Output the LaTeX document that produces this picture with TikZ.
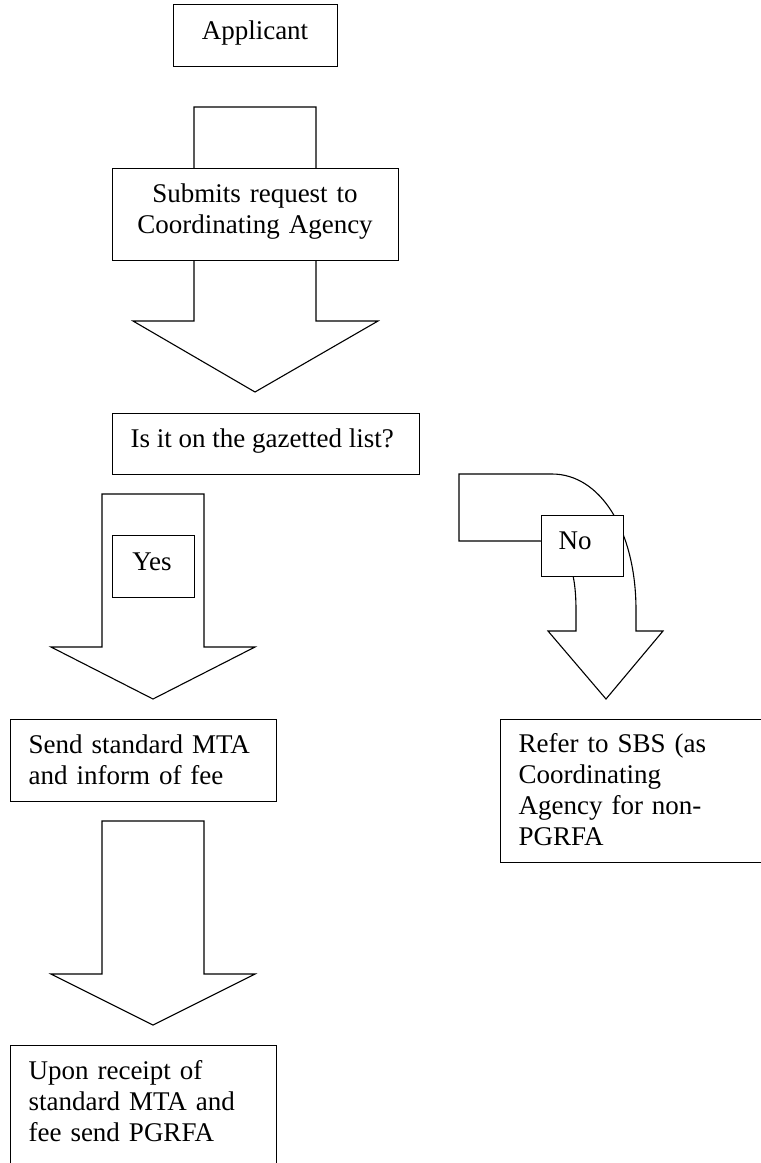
\documentclass[tikz,border=0pt]{standalone}
\usepackage{fontspec}
\setmainfont{Liberation Serif}
\begin{document}
\begin{tikzpicture}[x=1pt,y=-1pt, line width=1.1pt, line join=miter,
  boxst/.style={draw, fill=white, rectangle, inner sep=0pt, anchor=north west},
  txt/.style={inner sep=0pt, font=\fontsize{27}{31}\selectfont, align=left},
  barrow/.style={draw, fill=white}]
\fill[white] (0,0) rectangle (761,1163);
\useasboundingbox (0,0) rectangle (761,1163);
\clip (0,0) rectangle (761,1163);

% Applicant
\node[boxst, minimum width=164pt, minimum height=62pt] (applicant) at (173,4) {};
\node[txt, anchor=base] (applicantT) at (255,39) {Applicant};

% block arrow 1
\draw[barrow] (194,107) -- (316,107) -- (316,321) -- (378,321) -- (255,392)
  -- (133,321) -- (194,321) -- cycle;

% Submits
\node[boxst, minimum width=286pt, minimum height=92pt] (submits) at (112,168) {};
\node[txt, anchor=base, text width=280pt, align=center] (submitsT) at (255,202)
  {Submits request to\\Coordinating Agency};

% Gazetted
\node[boxst, minimum width=307pt, minimum height=61pt] (gazette) at (112,413) {};
\node[txt, anchor=base west] (gazetteT) at (130,447) {Is it on the gazetted list?};

% Yes arrow
\draw[barrow] (102,494) -- (204,494) -- (204,647) -- (255,647) -- (153,699)
  -- (51,647) -- (102,647) -- cycle;
\node[boxst, minimum width=82pt, minimum height=62pt] (yes) at (112,535) {};
\node[txt, anchor=base] (yesT) at (152,570) {Yes};

% No curved arrow
\draw[barrow] (459,474) -- (552,474) .. controls (600,474) and (636,530) .. (636,610)
  -- (636,631) -- (663,631) -- (606,699) -- (548,631) -- (576,631) -- (576,610)
  .. controls (576,565) and (565,541) .. (540,541) -- (459,541) -- cycle;
\node[boxst, minimum width=82pt, minimum height=61pt] (no) at (541,515) {};
\node[txt, anchor=base west] (noT) at (558,549) {No};

% Send
\node[boxst, minimum width=266pt, minimum height=82pt] (send) at (10,719) {};
\node[txt, anchor=base west, text width=240pt] (sendT) at (28,753)
  {Send standard MTA\\and inform of fee};

% arrow 3
\draw[barrow] (102,821) -- (204,821) -- (204,974) -- (255,974) -- (153,1025)
  -- (51,974) -- (102,974) -- cycle;

% Upon
\node[boxst, minimum width=266pt, minimum height=160pt] (upon) at (10,1045) {};
\node[txt, anchor=base west, text width=240pt] (uponT) at (28,1079)
  {Upon receipt of\\standard MTA and\\fee send PGRFA};

% Refer
\node[boxst, minimum width=300pt, minimum height=143pt] (refer) at (500,719) {};
\node[txt, anchor=base west, text width=240pt] (referT) at (518,752)
  {Refer to SBS (as\\Coordinating\\Agency for non-\\PGRFA};
\end{tikzpicture}
\end{document}
